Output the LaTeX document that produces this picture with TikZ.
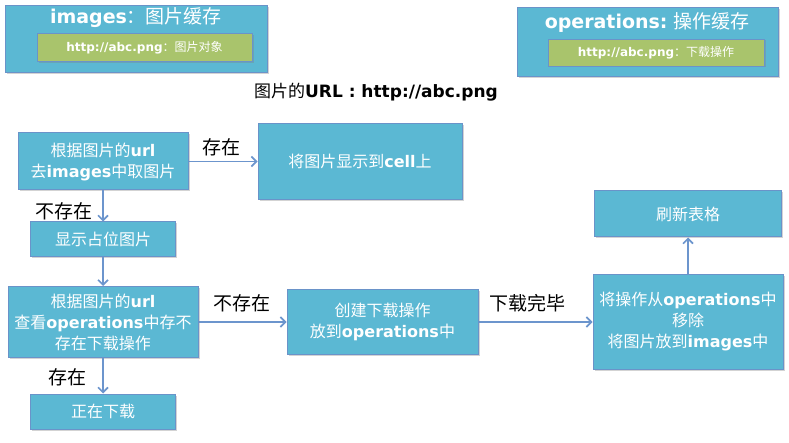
\documentclass[tikz,border=0pt]{standalone}
\usepackage{fontspec}
\setmainfont{Noto Sans CJK SC}
\newfontfamily\lat{DejaVu Sans}
\usetikzlibrary{arrows.meta,shadows}
\definecolor{boxfill}{HTML}{5BB8D3}
\definecolor{boxline}{HTML}{6A93C9}
\definecolor{greenfill}{HTML}{A9C46C}
\definecolor{arrowc}{HTML}{6C95CD}
\newcommand{\lw}[1]{{\lat\bfseries #1}}
\tikzset{
  flowbox/.style={draw=boxline, line width=1pt, fill=boxfill, text=white, align=center,
    font=\fontsize{16}{21}\selectfont, inner sep=2pt,
    drop shadow={shadow xshift=1.5pt, shadow yshift=-1.5pt, opacity=0.35}},
  greenbox/.style={draw=boxline, line width=0.8pt, fill=greenfill, text=white, align=center,
    font=\fontsize{12}{14}\selectfont, inner sep=1pt,
    drop shadow={shadow xshift=1.5pt, shadow yshift=-1.5pt, opacity=0.35}},
  flowarrow/.style={draw=arrowc, line width=1.6pt, -{Straight Barb[length=5pt,width=10pt]}},
  lbl/.style={text=black, font=\fontsize{19}{22}\selectfont, inner sep=0pt},
}
\begin{document}
\begin{tikzpicture}[x=1pt,y=-1pt]
\useasboundingbox (0,0) rectangle (789,443);
% caches
\node[flowbox, minimum width=262pt, minimum height=67pt] (imgs) at (136.5,39) {};
\node[text=white, font=\fontsize{19}{22}\selectfont, inner sep=0pt] (imgst) at (136,18) {\lw{images}：图片缓存};
\node[greenbox, minimum width=215pt, minimum height=28pt] (imgsg) at (144.5,47.5) {\lw{http://abc.png}：图片对象};
\node[flowbox, minimum width=261pt, minimum height=69pt] (ops) at (647.5,42.5) {};
\node[text=white, font=\fontsize{19}{22}\selectfont, inner sep=0pt] (opst) at (647,23) {\lw{operations:} 操作缓存};
\node[greenbox, minimum width=216pt, minimum height=27pt] (opsg) at (656,52.5) {\lw{http://abc.png}：下载操作};
% title
\node[text=black, font=\fontsize{17}{20}\selectfont, inner sep=0pt] (url) at (376,92) {图片的\lw{URL : http://abc.png}};
% flow
\node[flowbox, minimum width=170pt, minimum height=57pt] (A) at (103,161.5) {根据图片的\lw{url}\\去\lw{images}中取图片};
\node[flowbox, minimum width=204pt, minimum height=76pt] (B) at (360,161.5) {将图片显示到\lw{cell}上};
\node[flowbox, minimum width=145pt, minimum height=35pt] (C) at (103,239.5) {显示占位图片};
\node[flowbox, minimum width=190pt, minimum height=71pt] (D) at (103,322) {根据图片的\lw{url}\\查看\lw{operations}中存不\\存在下载操作};
\node[flowbox, minimum width=145pt, minimum height=35pt] (E) at (103,411.5) {正在下载};
\node[flowbox, minimum width=191pt, minimum height=65pt] (F) at (382.5,322) {创建下载操作\\放到\lw{operations}中};
\node[flowbox, minimum width=190pt, minimum height=95pt] (G) at (688,322) {将操作从\lw{operations}中\\移除\\将图片放到\lw{images}中};
\node[flowbox, minimum width=187pt, minimum height=46pt] (H) at (688,214) {刷新表格};
% arrows
\draw[flowarrow] (A.east) -- (B.west);
\draw[flowarrow] (A.south) -- (C.north);
\draw[flowarrow] (C.south) -- (D.north);
\draw[flowarrow] (D.south) -- (E.north);
\draw[flowarrow] (D.east) -- (F.west);
\draw[flowarrow] (F.east) -- (G.west);
\draw[flowarrow] (G.north) -- (H.south);
% labels
\node[lbl] (l1) at (221,147) {存在};
\node[lbl] (l2) at (64,211) {不存在};
\node[lbl] (l3) at (242,303) {不存在};
\node[lbl] (l4) at (67,377) {存在};
\node[lbl] (l5) at (527,303) {下载完毕};
\end{tikzpicture}
\end{document}
